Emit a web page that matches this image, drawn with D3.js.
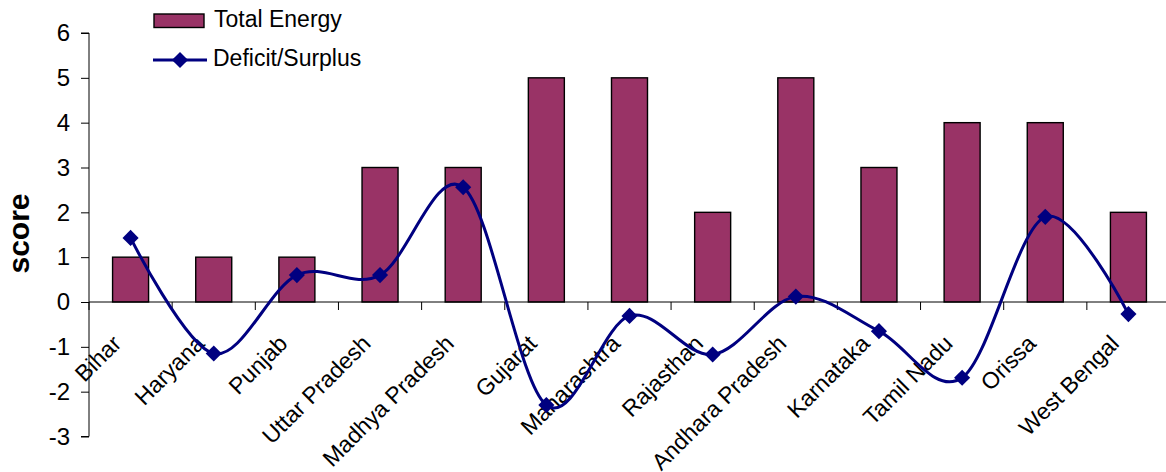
<!DOCTYPE html>
<html>
<head>
<meta charset="utf-8">
<script src="https://cdn.jsdelivr.net/npm/d3@7"></script>
<style>
  html, body { margin: 0; padding: 0; background: #ffffff; }
  svg { display: block; font-family: Arial, "Liberation Sans", sans-serif; }
</style>
</head>
<body>
<svg id="chart" width="1166" height="472"></svg>
<script>
const categories = ["Bihar", "Haryana", "Punjab", "Uttar Pradesh", "Madhya Pradesh", "Gujarat",
  "Maharashtra", "Rajasthan", "Andhara Pradesh", "Karnataka", "Tamil Nadu", "Orissa", "West Bengal"];
const totalEnergy = [1, 1, 1, 3, 3, 5, 5, 2, 5, 3, 4, 4, 2];
const deficitSurplus = [1.43, -1.15, 0.60, 0.60, 2.56, -2.30, -0.31, -1.17, 0.12, -0.65, -1.69, 1.90, -0.27];
const yTicks = [-3, -2, -1, 0, 1, 2, 3, 4, 5, 6];
const seriesNames = ["Total Energy", "Deficit/Surplus"];
const yLabel = "score";

(function () {
const svg = d3.select("#chart");
const pLeft = 89, pRight = 1170, pTop = 33, pBottom = 436.5;

const x = d3.scaleBand().domain(categories).range([pLeft, pRight]).paddingInner(0).paddingOuter(0);
const y = d3.scaleLinear().domain([-3, 6]).range([pBottom, pTop]);
const barW = 36;
const barColor = "#993366";
const lineColor = "#000080";

// Bars
svg.append("g").selectAll("rect")
  .data(categories)
  .join("rect")
  .attr("x", (d) => x(d) + x.bandwidth() / 2 - barW / 2)
  .attr("width", barW)
  .attr("y", (d, i) => y(Math.max(0, totalEnergy[i])))
  .attr("height", (d, i) => Math.abs(y(totalEnergy[i]) - y(0)))
  .attr("fill", barColor)
  .attr("stroke", "#000")
  .attr("stroke-width", 1.4);

// Y axis
const yAxis = d3.axisLeft(y).tickValues(yTicks).tickSize(8).tickPadding(11).tickFormat((d) => String(d));
const gy = svg.append("g").attr("transform", `translate(${pLeft},0)`).call(yAxis);
gy.select(".domain").attr("stroke", "#000").attr("d", `M-8,${pTop}H0V${pBottom}H-8`);
gy.selectAll(".tick line").attr("stroke", "#000");
gy.selectAll(".tick text").attr("font-size", 24).attr("fill", "#000")
  .attr("font-family", "Arial, 'Liberation Sans', sans-serif");

// X axis at zero with ticks at category boundaries
const boundaries = categories.map((d) => x(d)).concat([pRight]);
const gx = svg.append("g");
gx.append("line").attr("x1", pLeft).attr("x2", pRight).attr("y1", y(0)).attr("y2", y(0))
  .attr("stroke", "#000").attr("stroke-width", 1);
gx.selectAll("line.tk").data(boundaries).join("line").attr("class", "tk")
  .attr("x1", (d) => d).attr("x2", (d) => d)
  .attr("y1", y(0)).attr("y2", y(0) + 8)
  .attr("stroke", "#000");

// Category labels
svg.append("g").selectAll("text")
  .data(categories)
  .join("text")
  .attr("transform", (d) => `translate(${x(d) + x.bandwidth() / 2 - 8},345) rotate(-45)`)
  .attr("text-anchor", "end")
  .attr("font-size", 23)
  .attr("fill", "#000")
  .text((d) => d);

// Smoothed line
const pts = categories.map((d, i) => [x(d) + x.bandwidth() / 2, y(deficitSurplus[i])]);
svg.append("path")
  .attr("d", d3.line().curve(d3.curveCardinal.tension(0))(pts))
  .attr("fill", "none")
  .attr("stroke", lineColor)
  .attr("stroke-width", 3);

const diamond = d3.symbol().type(d3.symbolSquare).size(130);
svg.append("g").selectAll("path")
  .data(pts)
  .join("path")
  .attr("transform", (d) => `translate(${d[0]},${d[1]}) rotate(45)`)
  .attr("d", diamond)
  .attr("fill", lineColor);

// Y label
svg.append("text")
  .attr("transform", "translate(28.5,233.5) rotate(-90)")
  .attr("text-anchor", "middle")
  .attr("font-size", 30)
  .attr("font-weight", "bold")
  .attr("fill", "#000")
  .text(yLabel);

// Legend
const lg = svg.append("g");
lg.append("rect").attr("x", 154).attr("y", 14).attr("width", 50).attr("height", 13.5)
  .attr("fill", barColor).attr("stroke", "#000").attr("stroke-width", 1.4);
lg.append("text").attr("x", 214).attr("y", 27).attr("font-size", 23).attr("fill", "#000").text(seriesNames[0]);
lg.append("line").attr("x1", 153).attr("x2", 207).attr("y1", 60).attr("y2", 60)
  .attr("stroke", lineColor).attr("stroke-width", 3);
lg.append("path").attr("transform", "translate(180,60) rotate(45)").attr("d", diamond).attr("fill", lineColor);
lg.append("text").attr("x", 213).attr("y", 66).attr("font-size", 23).attr("fill", "#000").text(seriesNames[1]);
})();
</script>
</body>
</html>
